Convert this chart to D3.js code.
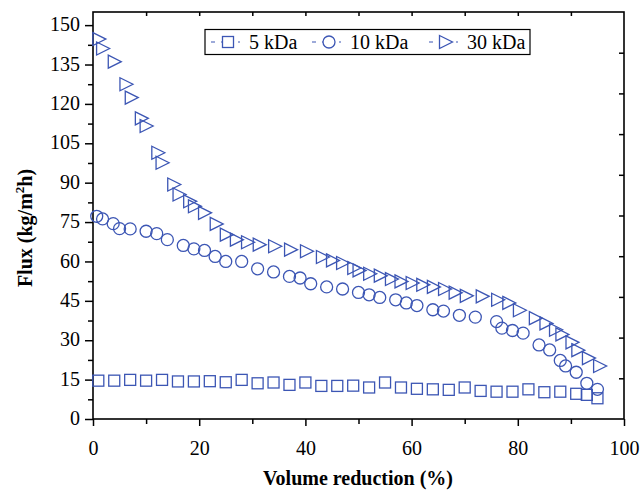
<!DOCTYPE html>
<html><head><meta charset="utf-8">
<script src="https://cdn.jsdelivr.net/npm/d3@7"></script>
<style>body{margin:0;background:#fff}</style>
</head><body>
<svg id="c" width="641" height="491"></svg>
<script>
// ---- data ----
const seriesNames = ["5 kDa", "10 kDa", "30 kDa"];
const vol5  = [1,4,7,10,13,16,19,22,25,28,31,34,37,40,43,46,49,52,55,58,61,64,67,70,73,76,79,82,85,88,91,93,95];
const flux5 = [14.6,14.6,14.9,14.6,14.9,14.3,14.3,14.4,14.0,14.9,13.6,13.9,13.0,13.9,12.6,12.6,12.7,12.0,13.9,12.0,11.5,11.3,11.1,12.0,10.7,10.4,10.4,11.3,10.2,10.4,9.6,9.2,7.9];
const vol10  = [0.7,1.8,3.8,5,7,10,12,14,17,19,21,23,25,28,31,34,37,39,41,44,47,50,52,54,57,59,61,64,66,69,72,76,77,79,81,84,86,88,89,91,93,95];
const flux10 = [77.2,76.2,74.4,72.5,72.4,71.5,70.6,68.3,66.1,64.8,64.2,61.9,60.0,60.0,57.2,56.0,54.3,53.7,51.5,50.3,49.5,48.2,47.3,46.3,45.4,44.2,43.2,41.6,41.1,39.5,38.8,37.1,34.6,33.7,32.7,28.2,26.3,22.3,20.2,17.8,13.6,11.3];
const vol30  = [1.2,1.9,4.1,6.3,7.3,9.2,10.1,12.3,13.1,15.3,16.3,18.3,19.2,21.1,23.3,25.2,27.1,29.2,31.4,34.3,37.3,40.3,43.3,45.2,47.1,49.2,50.2,52.2,54.2,56.3,58.1,60.2,62.2,64.2,66.3,68.3,70.4,73.4,76.3,78.4,80.4,83.4,85.4,87.2,88.4,90.3,91.4,93.4,95.5];
const flux30 = [144.7,141.1,136.1,127.5,122.4,114.5,111.6,101.4,97.6,89.3,85.5,82.9,81.0,78.5,74.3,70.2,68.3,67.3,66.4,65.8,64.5,63.9,61.7,60.4,59.4,57.5,56.6,55.3,54.6,53.3,52.4,51.8,51.1,50.3,49.5,48.1,46.9,46.7,45.4,44.2,41.4,38.4,36.4,34.0,32.2,29.2,26.2,23.2,20.2];
const xTicks = [0,20,40,60,80,100];
const yTicks = [0,15,30,45,60,75,90,105,120,135,150];

// ---- layout ----
const L=93, R=624, T=12, B=419;
const col = "#3c56b4";
const font = "'Liberation Serif','Times New Roman',serif";
const svg = d3.select("#c");
const x = d3.scaleLinear([0,100],[L,R]);
const y = d3.scaleLinear([0,155],[B,T]);

// axes
const gx = svg.append("g").attr("transform",`translate(0,${B})`)
  .call(d3.axisBottom(x).tickValues(xTicks).tickSize(7).tickPadding(15).tickFormat(d3.format("d")));
const gxm = svg.append("g").attr("transform",`translate(0,${B})`)
  .call(d3.axisBottom(x).tickValues(d3.range(10,100,20)).tickSize(5).tickFormat(""));
const gy = svg.append("g").attr("transform",`translate(${L},0)`)
  .call(d3.axisLeft(y).tickValues(yTicks).tickSize(8).tickPadding(5));
const gym = svg.append("g").attr("transform",`translate(${L},0)`)
  .call(d3.axisLeft(y).tickValues(d3.range(7.5,155,15)).tickSize(5).tickFormat(""));
const gt = svg.append("g").attr("transform",`translate(0,${T})`)
  .call(d3.axisBottom(x).tickValues(d3.range(10,100,10)).tickSize(4).tickFormat(""));
const gr = svg.append("g").attr("transform",`translate(${R},0)`)
  .call(d3.axisLeft(y).tickValues(d3.range(1,10).map(k=>k*15.5)).tickSize(5).tickFormat(""));
[gx,gxm,gy,gym,gt,gr].forEach(g=>{
  g.select(".domain").remove();
  g.selectAll("line").attr("stroke","#000").attr("stroke-width",1.5);
  g.selectAll("text").attr("font-family",font).attr("font-size",20).attr("fill","#000");
});
gy.selectAll("text").attr("dy","0.28em");
gx.selectAll("text").attr("dy","0.71em");
svg.append("rect").attr("x",L).attr("y",T).attr("width",R-L).attr("height",B-T)
  .attr("fill","none").attr("stroke","#000").attr("stroke-width",1.6);

// titles
svg.append("text").attr("x",358).attr("y",485).attr("text-anchor","middle")
  .attr("font-family",font).attr("font-weight","bold").attr("font-size",20).text("Volume reduction (%)");
const yl = svg.append("text").attr("transform","translate(32,228) rotate(-90)").attr("text-anchor","middle")
  .attr("font-family",font).attr("font-weight","bold").attr("font-size",20);
yl.append("tspan").text("Flux (kg/m");
yl.append("tspan").attr("font-size",13).attr("dy",-8).text("2");
yl.append("tspan").attr("dy",8).text("h)");

// symbols
function sq(g,cx,cy,s){ return g.append("rect").attr("x",cx-s/2).attr("y",cy-s/2).attr("width",s).attr("height",s); }
function tri(cx,cy,w,h){ return `M${cx-w/2},${cy-h/2}L${cx+w/2},${cy}L${cx-w/2},${cy+h/2}Z`; }
const sty = s=>s.attr("fill","none").attr("stroke",col).attr("stroke-width",1.3);

const d5 = vol5.map((v,i)=>[v,flux5[i]]);
const d10 = vol10.map((v,i)=>[v,flux10[i]]);
const d30 = vol30.map((v,i)=>[v,flux30[i]]);
const plot = svg.append("g");
plot.selectAll(".s5").data(d5).join("rect").attr("class","s5")
  .attr("x",d=>x(d[0])-5.5).attr("y",d=>y(d[1])-5.5).attr("width",11).attr("height",11).call(sty);
plot.selectAll(".s10").data(d10).join("circle").attr("class","s10")
  .attr("cx",d=>x(d[0])).attr("cy",d=>y(d[1])).attr("r",6).call(sty);
plot.selectAll(".s30").data(d30).join("path").attr("class","s30")
  .attr("d",d=>tri(x(d[0]),y(d[1]),13,13)).call(sty);

// legend
const lg = svg.append("g");
lg.append("rect").attr("x",205).attr("y",29.5).attr("width",325).attr("height",25)
  .attr("fill","#fff").attr("stroke","#000").attr("stroke-width",1.2);
const items = [{x0:211, txt:seriesNames[0], k:0},{x0:312, txt:seriesNames[1], k:1},{x0:429, txt:seriesNames[2], k:2}];
const ly = 42;
items.forEach(it=>{
  lg.append("line").attr("x1",it.x0).attr("x2",it.x0+31).attr("y1",ly).attr("y2",ly)
    .attr("stroke",col).attr("stroke-width",1.2).attr("stroke-dasharray","4,6,2,5");
  const cx = it.x0+17;
  if(it.k===0) sty(sq(lg,cx,ly,11)).attr("fill","#fff");
  if(it.k===1) sty(lg.append("circle").attr("cx",cx).attr("cy",ly).attr("r",6)).attr("fill","#fff");
  if(it.k===2) sty(lg.append("path").attr("d",tri(cx,ly,13,13))).attr("fill","#fff");
  lg.append("text").attr("x",it.x0+38).attr("y",ly+7).attr("font-family",font).attr("font-size",20).text(it.txt);
});
</script>
</body></html>
